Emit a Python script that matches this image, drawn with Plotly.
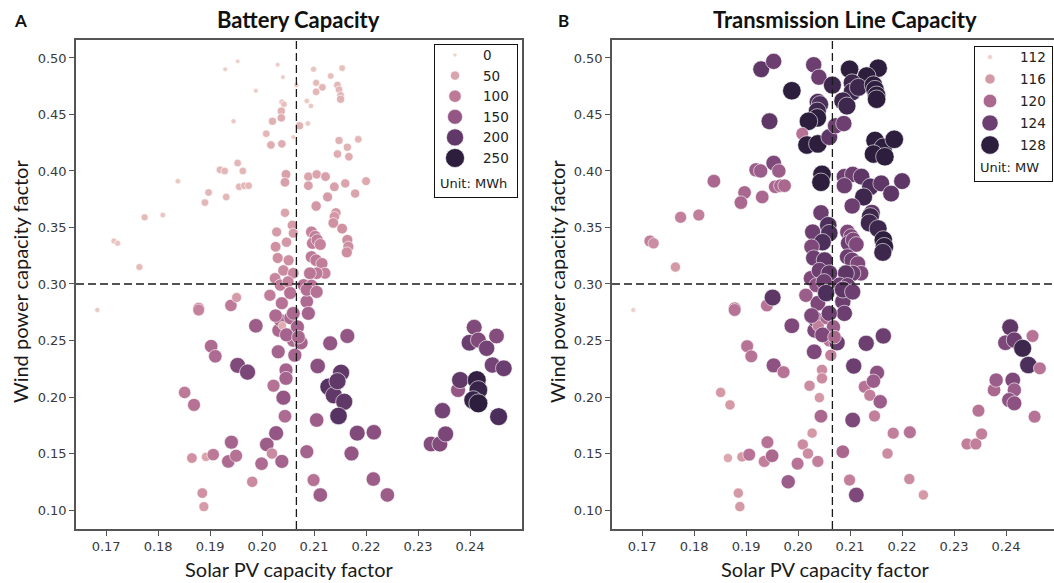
import numpy as np
import plotly.graph_objects as go

# ---------------- data ----------------
SOLAR = [
    0.1929, 0.1953, 0.2030, 0.2040, 0.1988, 0.2066, 0.2038, 0.2042, 0.2037, 0.2037,
    0.2020, 0.1945, 0.2008, 0.2017, 0.2038, 0.2060, 0.2072, 0.2088, 0.1919, 0.1928,
    0.1953, 0.1963, 0.1838, 0.1897, 0.1890, 0.1931, 0.1956, 0.1966, 0.1974, 0.2046,
    0.2044, 0.2044, 0.1774, 0.1809, 0.1715, 0.1722, 0.1764,
    0.2099, 0.2154, 0.2132, 0.2104, 0.2104, 0.2116, 0.2145, 0.2148, 0.2151, 0.2151,
    0.2086, 0.2094, 0.2148, 0.2164, 0.2145, 0.2167, 0.2185,
    0.2089, 0.2105, 0.2122, 0.2089, 0.2139, 0.2160, 0.2200, 0.2179, 0.2126, 0.2104,
    0.2142, 0.2139, 0.2137, 0.2154, 0.2164, 0.2166, 0.2163, 0.2095, 0.2102, 0.2097,
    0.2106, 0.2112, 0.2095, 0.2104, 0.2115, 0.2121, 0.2105, 0.2092,
    0.2028, 0.2058, 0.2060, 0.2047, 0.2026, 0.2030, 0.2051, 0.2025, 0.2041, 0.2060,
    0.2080, 0.2095, 0.2035, 0.2050,
    0.1683, 0.1878, 0.1878, 0.1940, 0.1951, 0.1988, 0.1902, 0.1910, 0.1953, 0.1972,
    0.1851, 0.1869, 0.1865, 0.1892, 0.1906, 0.1941, 0.1935, 0.1950, 0.1981, 0.1885,
    0.1888, 0.1999, 0.2009, 0.2019, 0.2027, 0.2038, 0.2044, 0.2022, 0.2041, 0.2046,
    0.2046, 0.2031, 0.2063, 0.2032, 0.2035, 0.2039, 0.2055, 0.2060, 0.2075, 0.2086,
    0.2099, 0.2112, 0.2105, 0.2107, 0.2131, 0.2164, 0.2128, 0.2138, 0.2152, 0.2145,
    0.2158, 0.2147, 0.2183, 0.2172, 0.2215, 0.2214, 0.2241,
    0.2325, 0.2342, 0.2353, 0.2347, 0.2377, 0.2381, 0.2413, 0.2416, 0.2406, 0.2416,
    0.2455, 0.2408, 0.2399, 0.2416, 0.2432, 0.2451, 0.2443, 0.2465,
    0.2038, 0.2054, 0.2086, 0.2086, 0.2105, 0.2089, 0.2060, 0.2068, 0.2047, 0.2070,
    0.2026, 0.2015,
]
WIND = [
    0.490, 0.497, 0.494, 0.483, 0.471, 0.476, 0.461, 0.459, 0.453, 0.447,
    0.444, 0.444, 0.433, 0.423, 0.424, 0.430, 0.440, 0.442, 0.401, 0.400,
    0.407, 0.400, 0.391, 0.381, 0.372, 0.377, 0.386, 0.387, 0.387, 0.397,
    0.390, 0.363, 0.359, 0.361, 0.338, 0.336, 0.315,
    0.490, 0.491, 0.484, 0.478, 0.470, 0.474, 0.476, 0.472, 0.467, 0.4635,
    0.462, 0.4575, 0.427, 0.421, 0.415, 0.4126, 0.428,
    0.395, 0.397, 0.395, 0.387, 0.386, 0.389, 0.391, 0.380, 0.377, 0.369,
    0.363, 0.3596, 0.354, 0.349, 0.339, 0.333, 0.328, 0.346, 0.342, 0.336,
    0.339, 0.335, 0.324, 0.321, 0.318, 0.3095, 0.3095, 0.3095,
    0.346, 0.352, 0.345, 0.337, 0.333, 0.323, 0.321, 0.305, 0.312, 0.3095,
    0.299, 0.2985, 0.299, 0.302,
    0.277, 0.2785, 0.277, 0.281, 0.288, 0.263, 0.245, 0.236, 0.228, 0.222,
    0.204, 0.193, 0.146, 0.147, 0.149, 0.160, 0.143, 0.148, 0.125, 0.115,
    0.103, 0.141, 0.158, 0.150, 0.168, 0.143, 0.183, 0.210, 0.1994, 0.224,
    0.2165, 0.240, 0.237, 0.259, 0.268, 0.263, 0.270, 0.250, 0.248, 0.1516,
    0.1265, 0.1133, 0.1796, 0.2274, 0.2475, 0.254, 0.209, 0.2015, 0.2215, 0.214,
    0.1958, 0.1832, 0.168, 0.150, 0.1688, 0.1274, 0.1133,
    0.1584, 0.1584, 0.1673, 0.1879, 0.2062, 0.215, 0.215, 0.2062, 0.1973, 0.1944,
    0.1826, 0.2617, 0.248, 0.2504, 0.2431, 0.254, 0.2283, 0.2254,
    0.283, 0.292, 0.2845, 0.295, 0.293, 0.274, 0.274, 0.262, 0.255, 0.253,
    0.272, 0.290,
]
BATTERY = [  # MWh
    5, 3, 5, 5, 5, 8, 15, 20, 35, 40,
    35, 8, 30, 40, 40, 5, 35, 10, 30, 30,
    30, 30, 10, 30, 30, 30, 30, 30, 30, 55,
    55, 50, 25, 12, 15, 15, 25,
    15, 20, 20, 25, 30, 30, 30, 30, 30, 35,
    10, 10, 35, 35, 40, 40, 30,
    50, 50, 55, 55, 55, 50, 45, 50, 60, 65,
    65, 65, 70, 70, 75, 75, 75, 90, 95, 95,
    95, 90, 100, 100, 95, 90, 100, 105,
    60, 60, 60, 65, 70, 75, 75, 85, 80, 85,
    110, 110, 95, 90,
    8, 90, 90, 100, 60, 140, 120, 120, 170, 175,
    100, 110, 70, 50, 100, 130, 120, 110, 80, 70,
    60, 120, 140, 80, 150, 130, 120, 110, 150, 130,
    130, 130, 130, 125, 120, 40, 125, 120, 130, 130,
    110, 140, 140, 160, 150, 150, 210, 200, 200, 200,
    200, 210, 170, 150, 160, 140, 140,
    165, 170, 175, 180, 150, 200, 245, 240, 240, 250,
    220, 170, 190, 170, 180, 165, 180, 190,
    110, 110, 120, 115, 110, 130, 125, 130, 130, 125,
    120, 95,
]
TRANSMISSION = [  # MW
    125, 124, 124, 124, 128, 127, 126, 126, 127, 128,
    128, 125, 119, 128, 128, 125, 124, 124, 121, 121,
    123, 121, 120, 120, 120, 120, 120, 120, 120, 128,
    128, 124, 118, 118, 118, 117, 116,
    128, 128, 128, 127, 127, 127, 128, 128, 128, 128,
    127, 127, 128, 128, 128, 128, 128,
    124, 124, 125, 124, 126, 125, 125, 125, 127, 124,
    125, 127, 127, 127, 128, 128, 127, 123, 123, 124,
    123, 123, 124, 124, 123, 123, 124, 125,
    124, 126, 126, 126, 123, 124, 125, 123, 124, 125,
    124, 124, 122, 124,
    112, 119, 119, 119, 125, 123, 119, 119, 122, 119,
    116, 116, 115, 116, 119, 119, 118, 120, 121, 116,
    116, 119, 117, 117, 116, 118, 120, 117, 116, 117,
    117, 123, 118, 123, 124, 118, 120, 119, 124, 120,
    118, 123, 123, 124, 124, 124, 119, 118, 122, 121,
    121, 118, 118, 117, 119, 117, 116,
    118, 118, 118, 119, 120, 121, 123, 121, 122, 122,
    119, 125, 123, 124, 127, 119, 126, 119,
    123, 126, 124, 125, 124, 124, 124, 121, 123, 120,
    123, 121,
]

BAT_LEVELS = [0, 50, 100, 150, 200, 250]
TX_LEVELS = [112, 116, 120, 124, 128]
X_TICKS = [0.17, 0.18, 0.19, 0.20, 0.21, 0.22, 0.23, 0.24]
X_TICK_LABELS = ["0.17", "0.18", "0.19", "0.20", "0.21", "0.22", "0.23", "0.24"]
Y_TICKS = [0.10, 0.15, 0.20, 0.25, 0.30, 0.35, 0.40, 0.45, 0.50]
Y_TICK_LABELS = ["0.10", "0.15", "0.20", "0.25", "0.30", "0.35", "0.40", "0.45", "0.50"]
SOLAR_REF = 0.2066
WIND_REF = 0.30

# ---------------- styling helpers ----------------
W, H = 1054, 583


def cubehelix(t):
    """seaborn default sequential cubehelix (light -> dark)."""
    x = 0.85 + (0.15 - 0.85) * t
    a = 0.8 * x * (1 - x) / 2
    phi = 2 * np.pi * (0.4 * x)
    r = x + a * (-0.14861 * np.cos(phi) + 1.78277 * np.sin(phi))
    g = x + a * (-0.29227 * np.cos(phi) - 0.90649 * np.sin(phi))
    b = x + a * (1.97294 * np.cos(phi))
    rgb = np.clip([r, g, b], 0, 1) * 255
    return "rgb(%d,%d,%d)" % tuple(int(round(v)) for v in rgb)


COLORSCALE = [[float(t), cubehelix(t)] for t in np.linspace(0, 1, 26)]


def sizes(vals, vmin, vmax, dmin, dmax):
    v = np.asarray(vals, dtype=float)
    f = np.clip((v - vmin) / (vmax - vmin), 0, 1)
    return np.sqrt(dmin ** 2 + (dmax ** 2 - dmin ** 2) * f)


BAT_RANGE = (0, 250, 4.0, 19.0)
TX_RANGE = (112, 128, 5.0, 18.5)

TICK_FONT = dict(family="DejaVu Sans", size=13, color="#3a3a3a")
LABEL_FONT = dict(family="Lato", size=20, color="#1a1a1a")
AXIS_COLOR = "#555555"

fig = go.Figure()


def px_x(p):
    return p / W


def px_y(p):
    return 1 - p / H


panels = [
    dict(xa="x", ya="y", vals=BATTERY, rng=BAT_RANGE, dom=[px_x(76), px_x(522)],
         xr=[0.1642, 0.2500], title="Battery Capacity", tcx=298, letter="A", lx=20,
         ylab_x=20, xlab_x=289),
    dict(xa="x2", ya="y2", vals=TRANSMISSION, rng=TX_RANGE, dom=[px_x(612), 1.0],
         xr=[0.1642, 0.2500 - 4 / 5200], title="Transmission Line Capacity", tcx=845,
         letter="B", lx=563, ylab_x=557, xlab_x=825),
]

annotations = []
shapes = []
for i, p in enumerate(panels):
    vmin, vmax, dmin, dmax = p["rng"]
    fig.add_trace(go.Scatter(
        x=SOLAR, y=WIND, mode="markers", xaxis=p["xa"], yaxis=p["ya"],
        marker=dict(size=sizes(p["vals"], vmin, vmax, dmin, dmax), color=p["vals"],
                    colorscale=COLORSCALE, cmin=vmin, cmax=vmax, opacity=1,
                    line=dict(color="white", width=0.6)),
        showlegend=False, hoverinfo="skip"))
    suffix = "" if i == 0 else "2"
    fig.update_layout(**{
        "xaxis" + suffix: dict(domain=p["dom"], range=p["xr"], anchor="y" + suffix,
                               tickvals=X_TICKS, ticktext=X_TICK_LABELS, ticks="outside",
                               ticklen=5, tickwidth=1.3, tickcolor=AXIS_COLOR,
                               showline=True, linecolor=AXIS_COLOR, linewidth=1.6,
                               mirror=True, showgrid=False, zeroline=False,
                               tickfont=TICK_FONT),
        "yaxis" + suffix: dict(domain=[px_y(529), px_y(40)], range=[0.0832, 0.5159],
                               anchor="x" + suffix, tickvals=Y_TICKS, ticktext=Y_TICK_LABELS,
                               ticks="outside", ticklen=5, tickwidth=1.3,
                               tickcolor=AXIS_COLOR, showline=True, linecolor=AXIS_COLOR,
                               linewidth=1.6, mirror=(i == 0), showgrid=False,
                               zeroline=False, tickfont=TICK_FONT),
    })
    shapes.append(dict(type="line", xref=p["xa"], yref=p["ya"] + " domain", x0=SOLAR_REF,
                       x1=SOLAR_REF, y0=0, y1=1, layer="above",
                       line=dict(color="#1a1a1a", width=1.3, dash="8px,4px")))
    shapes.append(dict(type="line", xref=p["xa"] + " domain", yref=p["ya"], x0=0, x1=1,
                       y0=WIND_REF, y1=WIND_REF, layer="above",
                       line=dict(color="#1a1a1a", width=1.3, dash="8px,4px")))
    annotations += [
        dict(text="<b>%s</b>" % p["title"], x=px_x(p["tcx"]), y=px_y(19), xref="paper",
             yref="paper", showarrow=False, xanchor="center", yanchor="middle",
             font=dict(family="Lato", size=22, color="#111111")),
        dict(text="<b>%s</b>" % p["letter"], x=px_x(p["lx"]), y=px_y(20), xref="paper",
             yref="paper", showarrow=False, xanchor="center", yanchor="middle",
             font=dict(family="Lato", size=17, color="#111111")),
        dict(text="Solar PV capacity factor", x=px_x(p["xlab_x"]), y=px_y(569),
             xref="paper", yref="paper", showarrow=False, xanchor="center",
             yanchor="middle", font=LABEL_FONT),
        dict(text="Wind power capacity factor", x=px_x(p["ylab_x"]), y=px_y(282),
             xref="paper", yref="paper", showarrow=False, xanchor="center",
             yanchor="middle", textangle=-90, font=LABEL_FONT),
    ]

# ---------------- custom size/colour legends (inset axes in pixel units) ----------------
legends = [
    dict(xa="x3", ya="y3", box=(435, 45, 517, 197), levels=BAT_LEVELS, rng=BAT_RANGE,
         cx=20, tx=46, y0=10, dy=20.6, unit="Unit: MWh", uy=138),
    dict(xa="x4", ya="y4", box=(975, 47, 1052, 181), levels=TX_LEVELS, rng=TX_RANGE,
         cx=15, tx=43, y0=10, dy=22, unit="Unit: MW", uy=121),
]
for j, L in enumerate(legends):
    x0, y0, x1, y1 = L["box"]
    vmin, vmax, dmin, dmax = L["rng"]
    n = len(L["levels"])
    ys = [L["y0"] + k * L["dy"] for k in range(n)]
    fig.add_trace(go.Scatter(
        x=[L["cx"]] * n, y=ys, mode="markers", xaxis=L["xa"], yaxis=L["ya"],
        marker=dict(size=sizes(L["levels"], vmin, vmax, dmin, dmax), color=L["levels"],
                    colorscale=COLORSCALE, cmin=vmin, cmax=vmax, opacity=1,
                    line=dict(color="white", width=0.6)),
        showlegend=False, hoverinfo="skip"))
    num = str(3 + j)
    fig.update_layout(**{
        "xaxis" + num: dict(domain=[px_x(x0), px_x(x1)], range=[0, x1 - x0],
                            anchor="y" + num, showticklabels=False, ticks="",
                            showgrid=False, zeroline=False, showline=True,
                            linecolor="#111111", linewidth=1.2, mirror=True),
        "yaxis" + num: dict(domain=[px_y(y1), px_y(y0)], range=[y1 - y0, 0],
                            anchor="x" + num, showticklabels=False, ticks="",
                            showgrid=False, zeroline=False, showline=True,
                            linecolor="#111111", linewidth=1.2, mirror=True),
    })
    for lvl, yy in zip(L["levels"], ys):
        annotations.append(dict(text=str(lvl), x=L["tx"], y=yy, xref=L["xa"],
                                yref=L["ya"], showarrow=False, xanchor="left",
                                yanchor="middle",
                                font=dict(family="DejaVu Sans", size=13.5, color="#222222")))
    annotations.append(dict(text=L["unit"], x=3, y=L["uy"], xref=L["xa"], yref=L["ya"],
                            showarrow=False, xanchor="left", yanchor="middle",
                            font=dict(family="DejaVu Sans", size=13, color="#222222")))

fig.update_layout(width=W, height=H, autosize=False,
                  margin=dict(l=0, r=0, t=0, b=0, pad=0),
                  paper_bgcolor="white", plot_bgcolor="white",
                  annotations=annotations, shapes=shapes, showlegend=False)

fig.write_html("out.html")
